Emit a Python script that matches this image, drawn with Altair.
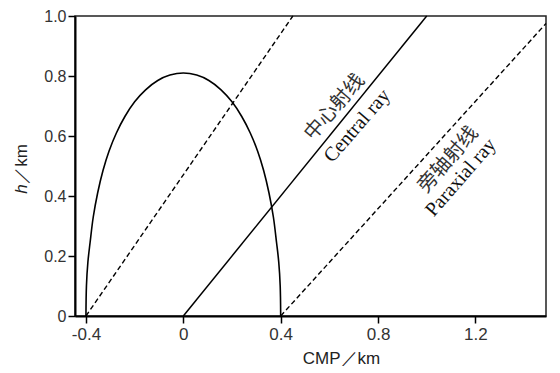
import altair as alt
import pandas as pd

# --- data ---
curve_x = [-0.400, -0.398, -0.392, -0.383, -0.370, -0.352, -0.330, -0.305, -0.275, -0.240,
           -0.200, -0.155, -0.105, -0.055, 0.0,
           0.055, 0.105, 0.155, 0.200, 0.240, 0.275, 0.305, 0.330, 0.352,
           0.370, 0.383, 0.392, 0.398, 0.400]
curve_h = [0.0, 0.10, 0.18, 0.245, 0.33, 0.41, 0.485, 0.55, 0.61, 0.665,
           0.714, 0.754, 0.785, 0.803, 0.81,
           0.803, 0.785, 0.754, 0.714, 0.665, 0.61, 0.55, 0.485, 0.41,
           0.33, 0.245, 0.18, 0.10, 0.0]

central_x = [0.0, 1.0]
central_h = [0.0, 1.0]
parax_left_x = [-0.4, 0.45]
parax_left_h = [0.0, 1.0]
parax_right_x = [0.4, 1.49]
parax_right_h = [0.0, 0.975]

cjk_text = ["中心射线", "旁轴射线"]
cjk_x = [0.621, 1.088]
cjk_h = [0.696, 0.521]
en_text = ["Central ray", "Paraxial ray"]
en_x = [0.714, 1.14]
en_h = [0.634, 0.462]

x_ticks = [-0.4, 0.0, 0.4, 0.8, 1.2]
y_ticks = [0.0, 0.2, 0.4, 0.6, 0.8, 1.0]

X_DOMAIN = [-0.445, 1.49]
Y_DOMAIN = [0.0, 1.0]

curve_df = pd.DataFrame({"x": curve_x, "h": curve_h, "i": list(range(len(curve_x)))})
central_df = pd.DataFrame({"x": central_x, "h": central_h})
pl_df = pd.DataFrame({"x": parax_left_x, "h": parax_left_h})
pr_df = pd.DataFrame({"x": parax_right_x, "h": parax_right_h})
cjk_df = pd.DataFrame({"t": cjk_text, "x": cjk_x, "h": cjk_h})
en_df = pd.DataFrame({"t": en_text, "x": en_x, "h": en_h})

FONT = "Liberation Sans"
LABEL_EXPR = ("datum.value == 0 ? '0' : (datum.value < 0 ? '-' + format(-datum.value, '.1f') "
              ": format(datum.value, '.1f'))")

x_enc = alt.X("x:Q", scale=alt.Scale(domain=X_DOMAIN, nice=False, zero=False),
              axis=alt.Axis(values=x_ticks, title="CMP／km", grid=False, labelExpr=LABEL_EXPR,
                            titleX=266, titleY=47, titleBaseline="alphabetic",
                            titleAnchor="start", titleAlign="center"))
y_enc = alt.Y("h:Q", scale=alt.Scale(domain=Y_DOMAIN, nice=False, zero=False),
              axis=alt.Axis(values=y_ticks, title=None, grid=False, labelExpr=LABEL_EXPR))

curve = alt.Chart(curve_df).mark_line(color="black", strokeWidth=1.6, interpolate="catmull-rom").encode(
    x=x_enc, y=y_enc, order="i:Q")
central = alt.Chart(central_df).mark_line(color="black", strokeWidth=1.5).encode(x="x:Q", y="h:Q")
pl = alt.Chart(pl_df).mark_line(color="black", strokeWidth=1.4, strokeDash=[5, 3]).encode(x="x:Q", y="h:Q")
pr = alt.Chart(pr_df).mark_line(color="black", strokeWidth=1.4, strokeDash=[5, 3]).encode(x="x:Q", y="h:Q")

cjk = alt.Chart(cjk_df).mark_text(font="Noto Sans CJK SC", fontSize=20, angle=311,
                                  align="center", baseline="middle", color="#333").encode(
    x="x:Q", y="h:Q", text="t:N")
en = alt.Chart(en_df).mark_text(font="Liberation Serif", fontSize=20, angle=311,
                                align="center", baseline="middle", color="#111").encode(
    x="x:Q", y="h:Q", text="t:N")

ytitle_h = alt.Chart(pd.DataFrame({"t": ["h"]})).mark_text(
    font=FONT, fontSize=17, fontStyle="italic", angle=270, align="center", baseline="middle",
    color="#222").encode(x=alt.value(-53), y=alt.value(173), text="t:N")
ytitle_km = alt.Chart(pd.DataFrame({"t": ["／km"]})).mark_text(
    font=FONT, fontSize=17, angle=270, align="center", baseline="middle",
    color="#222").encode(x=alt.value(-53), y=alt.value(148), text="t:N")

chart = alt.layer(curve, central, pl, pr, cjk, en, ytitle_h, ytitle_km).properties(
    width=471, height=300,
    autosize=alt.AutoSizeParams(type="none"),
    padding={"left": 67, "top": 8, "right": 5, "bottom": 50},
).configure_view(
    stroke="#222", strokeWidth=1.5
).configure_axis(
    domainColor="black", domainWidth=2, tickColor="black", tickWidth=1.5, tickSize=7,
    labelFont=FONT, labelFontSize=17, labelColor="#333", labelPadding=3,
    titleFont=FONT, titleFontSize=17, titleColor="#222", titleFontWeight="normal"
).configure_axisY(labelPadding=2, labelFontSize=16)

chart.save("out.html", embed_options={"renderer": "svg", "actions": False})
